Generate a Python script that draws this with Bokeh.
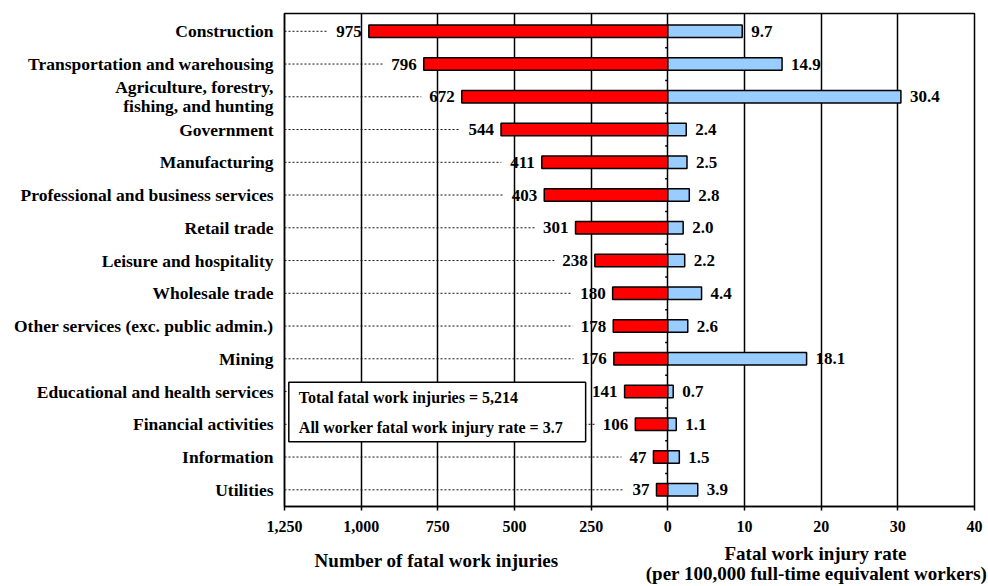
from bokeh.plotting import figure
from bokeh.layouts import column
from bokeh.models import Range1d, FixedTicker
from bokeh.core.properties import value
from bokeh.embed import file_html
from bokeh.resources import INLINE

# ---- data ----
categories = [
    "Construction",
    "Transportation and warehousing",
    "Agriculture, forestry,\nfishing, and hunting",
    "Government",
    "Manufacturing",
    "Professional and business services",
    "Retail trade",
    "Leisure and hospitality",
    "Wholesale trade",
    "Other services (exc. public admin.)",
    "Mining",
    "Educational and health services",
    "Financial activities",
    "Information",
    "Utilities",
]
fatal_counts = [975, 796, 672, 544, 411, 403, 301, 238, 180, 178, 176, 141, 106, 47, 37]
fatal_rates = [9.7, 14.9, 30.4, 2.4, 2.5, 2.8, 2.0, 2.2, 4.4, 2.6, 18.1, 0.7, 1.1, 1.5, 3.9]
count_ticks = [1250, 1000, 750, 500, 250, 0]
rate_ticks = [0, 10, 20, 30, 40]
total_text = "Total fatal work injuries = 5,214"
rate_text = "All worker fatal work injury rate = 3.7"
left_title = "Number of fatal work injuries"
right_title_1 = "Fatal work injury rate"
right_title_2 = "(per 100,000 full-time equivalent workers)"

# ---- scales ----
FONT = value("Liberation Serif")
ratio = (count_ticks[0] - count_ticks[1]) / (rate_ticks[1] - rate_ticks[0])  # 25 counts per rate unit
x_min = -count_ticks[0] / ratio
x_max = rate_ticks[-1]
idx = list(range(len(categories)))

W = 988
H_MAIN = 539
H_TITLE = 586 - H_MAIN

p = figure(width=W, height=H_MAIN,
           x_range=Range1d(x_min, x_max),
           y_range=Range1d(14.51, -0.543),
           output_backend="svg", toolbar_location=None,
           min_border_left=284, min_border_right=14,
           min_border_top=13, min_border_bottom=33)
p.extra_x_ranges = {"count": Range1d(count_ticks[0], -rate_ticks[-1] * ratio)}

p.background_fill_color = "white"
p.border_fill_color = "white"
p.outline_line_color = "black"
p.outline_line_width = 1.5
p.outline_line_alpha = 1.0

# x axis: counts on the left half, rates on the right half
tick_pos = sorted(set([-c / ratio for c in count_ticks] + [float(r) for r in rate_ticks]))
overrides = {}
for c in count_ticks:
    overrides[-c / ratio] = f"{c:,}"
for r in rate_ticks:
    overrides[float(r)] = f"{r}"
xa = p.xaxis[0]
xa.ticker = FixedTicker(ticks=tick_pos)
xa.major_label_overrides = overrides
xa.minor_tick_line_color = None
xa.major_tick_out = 4
xa.major_tick_in = 0
xa.major_tick_line_color = "black"
xa.major_tick_line_width = 1.5
xa.axis_line_color = "black"
xa.axis_line_width = 1.5
xa.major_label_standoff = 10
xa.major_label_text_font = "Liberation Serif"
xa.major_label_text_font_style = "bold"
xa.major_label_text_font_size = "16px"
xa.major_label_text_color = "black"

ya = p.yaxis[0]
ya.ticker = FixedTicker(ticks=idx)
ya.major_label_overrides = {i: c for i, c in zip(idx, categories)}
ya.major_tick_line_color = None
ya.major_tick_out = 0
ya.major_tick_in = 0
ya.minor_tick_line_color = None
ya.axis_line_color = "black"
ya.axis_line_width = 1.5
ya.major_label_standoff = 11
ya.major_label_text_font = "Liberation Serif"
ya.major_label_text_font_style = "bold"
ya.major_label_text_font_size = "17.5px"
ya.major_label_text_line_height = 0.95
ya.major_label_text_color = "black"

p.xgrid.ticker = FixedTicker(ticks=tick_pos)
p.xgrid.grid_line_color = "black"
p.xgrid.grid_line_width = 1.5
p.xgrid.grid_line_alpha = 1.0
p.ygrid.grid_line_color = None

# ---- dotted leader lines from the left border to each count label ----
px_per_count = 690 / (count_ticks[0] + rate_ticks[-1] * ratio)
lead_end = [c + (7 + 8.5 * len(str(c)) + 8) / px_per_count for c in fatal_counts]
p.segment(x0=[count_ticks[0]] * len(idx), x1=lead_end, y0=idx, y1=idx,
          x_range_name="count", line_color="#111111", line_width=1,
          line_dash="2 2")

# small ticks on the zero line between rows
p.segment(x0=[-0.35] * (len(idx) - 1), x1=[0] * (len(idx) - 1),
          y0=[i + 0.5 for i in idx[:-1]], y1=[i + 0.5 for i in idx[:-1]],
          line_color="black", line_width=1.5)

# ---- bars ----
p.hbar(y=idx, left=0, right=fatal_counts, height=0.38, x_range_name="count",
       fill_color="#FF0000", line_color="black", line_width=1.5)
p.hbar(y=idx, left=0, right=fatal_rates, height=0.38,
       fill_color="#99CCFF", line_color="black", line_width=1.5)

# ---- value labels ----
p.text(x=fatal_counts, y=idx, text=[str(c) for c in fatal_counts],
       x_range_name="count", x_offset=-7, text_align="right",
       text_baseline="middle", text_font=FONT, text_font_style="bold",
       text_font_size="17px", text_color="black")
p.text(x=fatal_rates, y=idx, text=[f"{r:.1f}" for r in fatal_rates],
       x_offset=9, text_align="left", text_baseline="middle",
       text_font=FONT, text_font_style="bold",
       text_font_size="17px", text_color="black")

# ---- summary box ----
p.quad(left=[-49.44], right=[-10.72], top=[10.72], bottom=[12.53],
       fill_color="white", line_color="black", line_width=1.5)
p.text(x=[-48.13, -48.13], y=[11.175, 12.09], text=[total_text, rate_text],
       text_align="left", text_baseline="middle", text_font=FONT,
       text_font_style="bold", text_font_size="16px", text_color="black")

# ---- axis titles strip (pixel coordinates) ----
t = figure(width=W, height=H_TITLE, x_range=Range1d(0, W), y_range=Range1d(H_TITLE, 0),
           output_backend="svg", toolbar_location=None,
           min_border_left=0, min_border_right=0, min_border_top=0, min_border_bottom=0)
if "frame_align" in t.properties():
    t.frame_align = False
if "frame_align" in p.properties():
    p.frame_align = False
t.axis.visible = False
t.grid.grid_line_color = None
t.outline_line_color = None
t.background_fill_color = "white"
t.border_fill_color = "white"
t.text(x=[436, 815, 816], y=[21, 14, 34],
       text=[left_title, right_title_1, right_title_2],
       text_align="center", text_baseline="middle", text_font=FONT,
       text_font_style="bold", text_font_size="19px", text_color="black")

layout = column(p, t, spacing=0)
open("out.html", "w").write(file_html(layout, INLINE))
